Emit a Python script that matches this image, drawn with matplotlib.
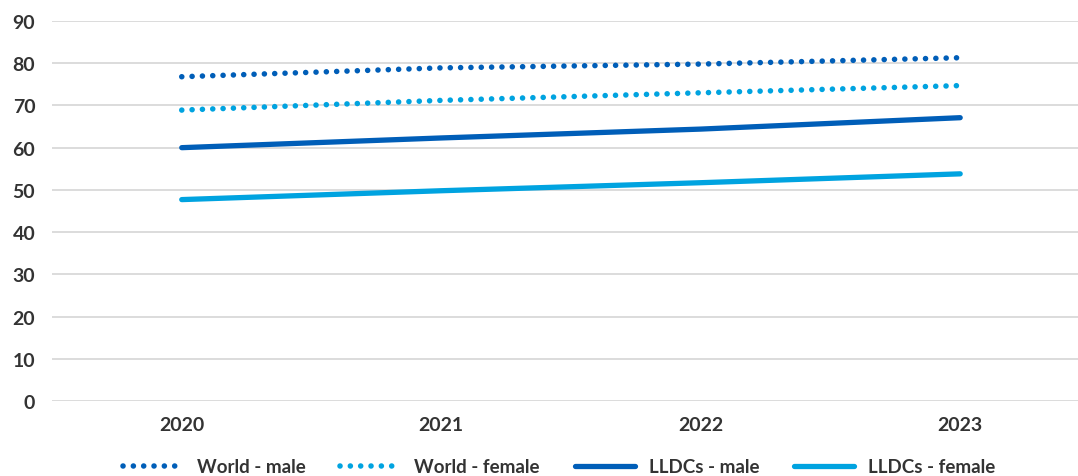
import matplotlib
matplotlib.use("Agg")
import matplotlib.pyplot as plt

years = ["2020", "2021", "2022", "2023"]
world_male = [76.8, 78.9, 79.8, 81.3]
world_female = [68.9, 71.2, 73.0, 74.7]
lldc_male = [60.0, 62.3, 64.4, 67.1]
lldc_female = [47.7, 49.8, 51.7, 53.8]
y_ticks = [0, 10, 20, 30, 40, 50, 60, 70, 80, 90]

dark_blue = "#005EB8"
light_blue = "#00A3E0"
text_color = "#333333"

plt.rcParams["font.family"] = ["Lato", "DejaVu Sans"]

fig = plt.figure(figsize=(10.78, 4.77), dpi=100)
ax = fig.add_axes([52 / 1078, 1 - 402 / 477, 1 - 52 / 1078, 380 / 477])

x = list(range(len(years)))
dot_style = (0, (0.01, 1.85))
ax.plot(x, world_male, color=dark_blue, lw=4.0, linestyle=dot_style,
        dash_capstyle="round", label="World - male", zorder=3)
ax.plot(x, world_female, color=light_blue, lw=4.0, linestyle=dot_style,
        dash_capstyle="round", label="World - female", zorder=3)
ax.plot(x, lldc_male, color=dark_blue, lw=3.8, solid_capstyle="round",
        label="LLDCs - male", zorder=3)
ax.plot(x, lldc_female, color=light_blue, lw=3.8, solid_capstyle="round",
        label="LLDCs - female", zorder=3)

ax.set_xlim(-0.5, 3.454)
ax.set_ylim(0, 90)
ax.set_yticks(y_ticks)
ax.set_xticks(x)
ax.set_xticklabels(years)
ax.yaxis.grid(True, color="#D9D9D9", lw=1.3)
ax.set_axisbelow(True)
for s in ax.spines.values():
    s.set_visible(False)
ax.tick_params(axis="both", length=0, labelsize=14, labelcolor=text_color)
ax.tick_params(axis="y", pad=12)
ax.tick_params(axis="x", pad=11)
for lbl in ax.get_xticklabels() + ax.get_yticklabels():
    lbl.set_fontweight("bold")

leg = fig.legend(loc="center", bbox_to_anchor=(0.5186, 1 - 468 / 477), ncol=4,
                 frameon=False, handlelength=3.2, handletextpad=0.75,
                 columnspacing=1.85, fontsize=13.5)
for t in leg.get_texts():
    t.set_fontweight("bold")
    t.set_color(text_color)

fig.savefig("out.png", dpi=100)
